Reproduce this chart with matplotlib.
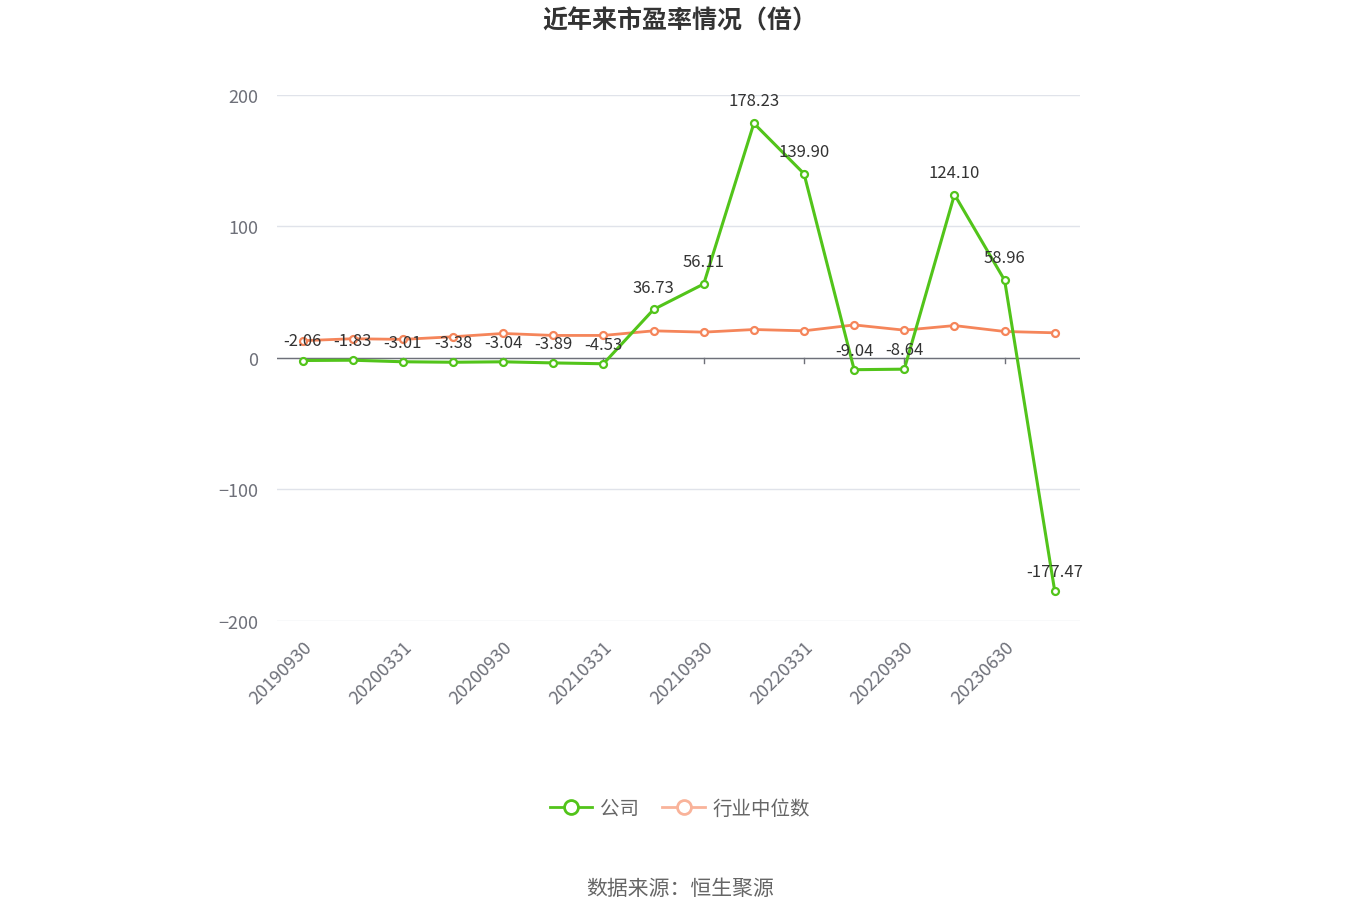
import matplotlib.pyplot as plt
import numpy as np

plt.rcParams['font.family'] = ['Noto Sans CJK SC', 'DejaVu Sans']

dates = ['20190930', '20191231', '20200331', '20200630', '20200930', '20201231',
         '20210331', '20210630', '20210930', '20211231', '20220331', '20220630',
         '20220930', '20230331', '20230630', '20230930']
company = [-2.06, -1.83, -3.01, -3.38, -3.04, -3.89, -4.53, 36.73, 56.11,
           178.23, 139.90, -9.04, -8.64, 124.10, 58.96, -177.47]
industry = [13.0, 14.5, 14.0, 16.0, 18.5, 17.0, 17.0, 20.5, 19.5, 21.5, 20.5,
            25.0, 21.0, 24.5, 20.0, 19.0]

green = '#52c41a'
orange = '#f5855a'

fig = plt.figure(figsize=(13.6, 9.2), dpi=100)
ax = fig.add_axes([0.204, 0.324, 0.59, 0.572])
x = np.arange(len(dates))

ax.plot(x, industry, color=orange, lw=2, marker='o', ms=5, mfc='white', mec=orange, mew=1.6, zorder=3)
ax.plot(x, company, color=green, lw=2.2, marker='o', ms=5, mfc='white', mec=green, mew=1.6, zorder=4)

for xi, v in zip(x, company):
    off = 10 if v > 0 else 8
    ax.annotate(f'{v:.2f}', (xi, v), xytext=(0, off), textcoords='offset points',
                ha='center', va='bottom', fontsize=12, color='#333333', zorder=5)

ax.set_xlim(-0.5, len(dates) - 0.5)
ax.set_ylim(-200, 200)
ax.set_yticks([-200, -100, 0, 100, 200])
ax.grid(axis='y', color='#e0e3ea', lw=1)
ax.set_axisbelow(True)
for s in ['top', 'right', 'left', 'bottom']:
    ax.spines[s].set_visible(False)
ax.axhline(0, color='#6e7079', lw=1, zorder=2)
ax.tick_params(axis='y', length=0, labelsize=13, labelcolor='#6e7079', pad=14)
ax.set_xticks(x[::2])
ax.set_xticklabels(dates[::2], rotation=45, ha='right', rotation_mode='anchor',
                   fontsize=13, color='#6e7079')
ax.tick_params(axis='x', length=0, pad=12)
for xi in x[::2]:
    ax.plot([xi, xi], [0, -4], color='#6e7079', lw=1, zorder=2)

fig.text(0.5, 0.977, '近年来市盈率情况（倍）', ha='center', va='center', fontsize=18,
         fontweight='bold', color='#333333')

leg = [plt.Line2D([], [], color=green, lw=2, marker='o', ms=10, mfc='white', mec=green, mew=2),
       plt.Line2D([], [], color='#f9b39a', lw=2, marker='o', ms=10, mfc='white', mec='#f9b39a', mew=2)]
fig.legend(leg, ['公司', '行业中位数'], loc='center', bbox_to_anchor=(0.5, 0.12),
           ncol=2, frameon=False, fontsize=14, labelcolor='#666666', handlelength=2.2,
           columnspacing=1.2, handletextpad=0.4)

fig.text(0.5, 0.034, '数据来源：恒生聚源', ha='center', va='center', fontsize=15, color='#666666')

fig.savefig('out.png', dpi=100)
